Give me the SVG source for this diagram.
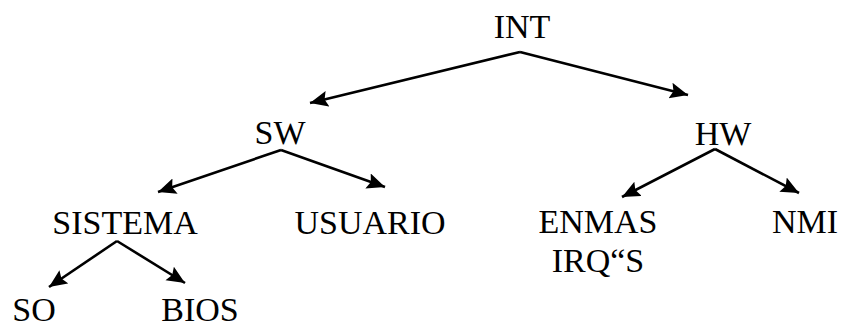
<svg xmlns="http://www.w3.org/2000/svg" width="844" height="327" viewBox="0 0 844 327">
<defs>
<marker id="ah" markerUnits="userSpaceOnUse" markerWidth="20" markerHeight="18" refX="18" refY="8" orient="auto">
<path d="M0,0 L18,8 L0,16 L3,8 z" fill="#000"/>
</marker>
</defs>
<style>
text{font-family:"Liberation Serif","Times New Roman",serif;font-size:34px;fill:#000;text-anchor:middle}
.c line{stroke:#000;stroke-width:2.6;marker-end:url(#ah)}
</style>
<rect width="844" height="327" fill="#fff"/>
<g class="c" id="connectors">
<line x1="520" y1="52" x2="310" y2="103"/>
<line x1="520" y1="52" x2="688" y2="95"/>
<line x1="281" y1="150" x2="158" y2="192"/>
<line x1="281" y1="150" x2="385" y2="187"/>
<line x1="715" y1="149" x2="622" y2="197"/>
<line x1="715" y1="149" x2="799" y2="193"/>
<line x1="117" y1="241" x2="49" y2="287"/>
<line x1="117" y1="241" x2="185" y2="283"/>
</g>
<g id="INT"><text x="522" y="38">INT</text></g>
<g id="SW"><text x="280" y="144">SW</text></g>
<g id="HW"><text x="723" y="145">HW</text></g>
<g id="SISTEMA"><text x="125" y="234">SISTEMA</text></g>
<g id="USUARIO"><text x="370" y="234">USUARIO</text></g>
<g id="ENMAS"><text x="598" y="233">ENMAS</text><text x="598" y="272">IRQ“S</text></g>
<g id="NMI"><text x="805" y="233">NMI</text></g>
<g id="SO"><text x="34" y="321">SO</text></g>
<g id="BIOS"><text x="200" y="321">BIOS</text></g>
</svg>
